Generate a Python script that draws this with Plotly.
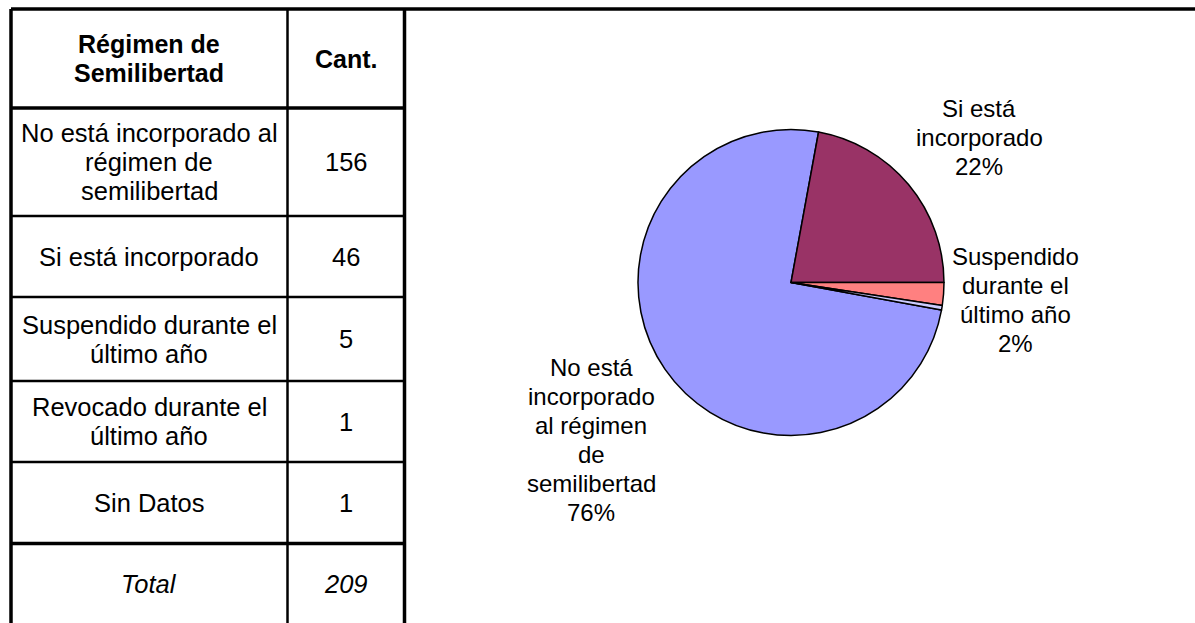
import plotly.graph_objects as go

# Table data
HEADERS = ["Régimen de\nSemilibertad", "Cant."]
CATEGORIES = [
    "No está incorporado al\nrégimen de\nsemilibertad",
    "Si está incorporado",
    "Suspendido durante el\núltimo año",
    "Revocado durante el\núltimo año",
    "Sin Datos",
]
COUNTS = [156, 46, 5, 1, 1]
TOTAL_LABEL = "Total"

# Pie data (Sin Datos is not part of the pie)
PIE_NAMES = [
    "No está\nincorporado\nal régimen\nde\nsemilibertad",
    "Si está\nincorporado",
    "Suspendido\ndurante el\núltimo año",
    "Revocado durante el\núltimo año",
]
PIE_VALUES = COUNTS[:4]
PIE_PCT = ["76%", "22%", "2%", ""]
PIE_COLORS = ["#9999FF", "#993366", "#FF8080", "#CCCCFF"]

# Layout (pixels)
W, H = 1195, 623
COL_EDGES = [11, 287.5, 404.5]
ROW_EDGES = [9, 108, 216, 297, 381, 462, 543.5, 627]
PIE_CX, PIE_CY, PIE_R = 791, 282.5, 153
PIE_LABEL_POS = [(591, 440), (979, 137), (1015, 300), None]
FONT = "Liberation Sans, Arial, sans-serif"


def add_text_block(fig, text, x, y, size, pitch, tag=None):
    lines = text.split("\n")
    top = y - pitch * (len(lines) - 1) / 2
    for i, line in enumerate(lines):
        t = f"<{tag}>{line}</{tag}>" if tag else line
        fig.add_annotation(
            x=x, y=top + i * pitch, xref="x", yref="y", text=t,
            showarrow=False, xanchor="center", yanchor="middle",
            font=dict(family=FONT, size=size, color="black"),
        )


def hline(fig, y, x0, x1, w):
    fig.add_shape(type="line", xref="x", yref="y", x0=x0, x1=x1, y0=y, y1=y,
                  line=dict(color="black", width=w))


def vline(fig, x, y0, y1, w):
    fig.add_shape(type="line", xref="x", yref="y", x0=x, x1=x, y0=y0, y1=y1,
                  line=dict(color="black", width=w))


fig = go.Figure()

# invisible trace so the pixel-like axes exist
fig.add_trace(go.Scatter(x=[0, W], y=[0, H], mode="markers",
                         marker=dict(opacity=0), hoverinfo="skip", showlegend=False))

total = sum(PIE_VALUES)
rotation = 90 + 360 * sum(PIE_VALUES[2:]) / total
fig.add_trace(go.Pie(
    labels=[n.replace("\n", " ") for n in PIE_NAMES],
    values=PIE_VALUES,
    marker=dict(colors=PIE_COLORS, line=dict(color="black", width=1.5)),
    sort=False,
    direction="clockwise",
    rotation=rotation,
    textinfo="none",
    hoverinfo="label+value+percent",
    showlegend=False,
    domain=dict(
        x=[(PIE_CX - PIE_R) / W, (PIE_CX + PIE_R) / W],
        y=[(H - PIE_CY - PIE_R) / H, (H - PIE_CY + PIE_R) / H],
    ),
))

# pie labels
for name, pct, pos in zip(PIE_NAMES, PIE_PCT, PIE_LABEL_POS):
    if pos is None or not pct:
        continue
    add_text_block(fig, name + "\n" + pct, pos[0], pos[1], 24, 29)

# table grid
hline(fig, ROW_EDGES[0], COL_EDGES[0], W, 3.5)
hline(fig, ROW_EDGES[1], COL_EDGES[0], COL_EDGES[2], 3.5)
for y in ROW_EDGES[2:-2]:
    hline(fig, y, COL_EDGES[0], COL_EDGES[2], 2.5)
hline(fig, ROW_EDGES[-2], COL_EDGES[0], COL_EDGES[2], 3.5)
vline(fig, COL_EDGES[0], ROW_EDGES[0], H, 3.5)
vline(fig, COL_EDGES[1], ROW_EDGES[0], H, 2.5)
vline(fig, COL_EDGES[2], ROW_EDGES[0], H, 3.5)

# table text
col_mid = [(COL_EDGES[0] + COL_EDGES[1]) / 2, (COL_EDGES[1] + COL_EDGES[2]) / 2]
row_mid = [(ROW_EDGES[i] + ROW_EDGES[i + 1]) / 2 for i in range(len(ROW_EDGES) - 1)]

add_text_block(fig, HEADERS[0], col_mid[0], row_mid[0], 25, 29, tag="b")
add_text_block(fig, HEADERS[1], col_mid[1], row_mid[0], 25, 29, tag="b")
for i, (cat, n) in enumerate(zip(CATEGORIES, COUNTS)):
    add_text_block(fig, cat, col_mid[0], row_mid[i + 1], 25.5, 29)
    add_text_block(fig, str(n), col_mid[1], row_mid[i + 1], 25.5, 29)
add_text_block(fig, TOTAL_LABEL, col_mid[0], row_mid[-1] - 1, 25.5, 29, tag="i")
add_text_block(fig, str(sum(COUNTS)), col_mid[1], row_mid[-1] - 1, 25.5, 29, tag="i")

fig.update_layout(
    width=W, height=H,
    margin=dict(l=0, r=0, t=0, b=0),
    paper_bgcolor="white", plot_bgcolor="white",
    xaxis=dict(range=[0, W], visible=False, fixedrange=True),
    yaxis=dict(range=[H, 0], visible=False, fixedrange=True),
)

# drop the default page margin so the figure sits at the window's corner
fig.write_html("out.html", config={"displayModeBar": False},
               post_script="document.body.style.margin = '0';")
